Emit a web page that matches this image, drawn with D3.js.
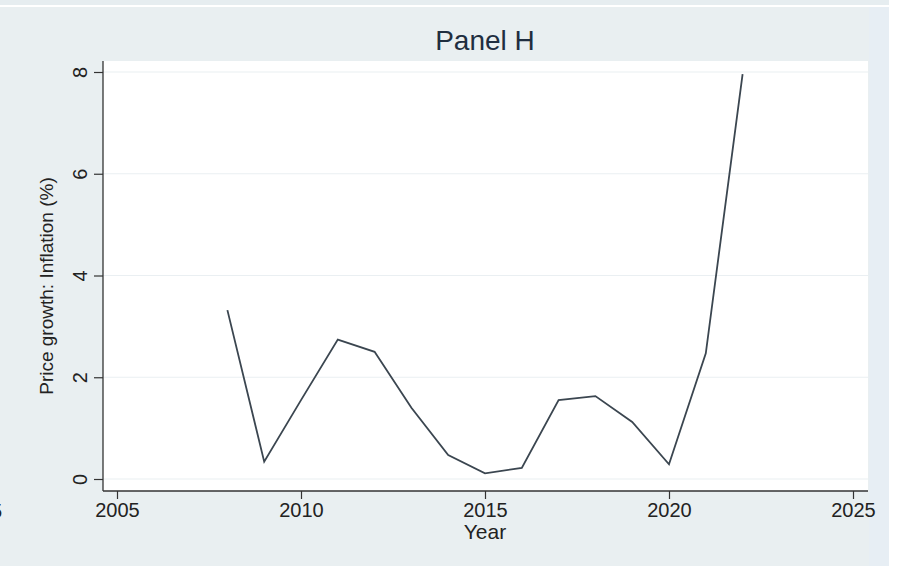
<!DOCTYPE html>
<html>
<head>
<meta charset="utf-8">
<script src="https://cdn.jsdelivr.net/npm/d3@7"></script>
<style>
  html, body { margin: 0; padding: 0; background: #ffffff; }
  svg { display: block; }
</style>
</head>
<body>
<svg id="chart" width="900" height="566"></svg>
<script>
// ---- data ----
const years = [2008, 2009, 2010, 2011, 2012, 2013, 2014, 2015, 2016, 2017, 2018, 2019, 2020, 2021, 2022];
const inflation = [3.32, 0.34, 1.55, 2.74, 2.50, 1.40, 0.47, 0.11, 0.22, 1.55, 1.63, 1.12, 0.29, 2.47, 7.96];
const xTicks = [2005, 2010, 2015, 2020, 2025];
const yTicks = [0, 2, 4, 6, 8];
const title = "Panel H";
const xLabel = "Year";
const yLabel = "Price growth: Inflation (%)";

const svg = d3.select("#chart");
const W = 900, H = 566;

// backgrounds
svg.append("rect").attr("x", 0).attr("y", 0).attr("width", W).attr("height", H).attr("fill", "#ffffff");
svg.append("rect").attr("x", 0).attr("y", 0).attr("width", 889).attr("height", 5).attr("fill", "#e6edf0");
svg.append("rect").attr("x", 0).attr("y", 7).attr("width", 889).attr("height", H - 7).attr("fill", "#e9eff1");
svg.append("rect").attr("x", 869).attr("y", 7).attr("width", 20).attr("height", H - 7).attr("fill", "#e7eef4");

// plot region
const pr = { left: 103, right: 868, top: 61, bottom: 491 };
svg.append("rect").attr("x", pr.left).attr("y", pr.top)
  .attr("width", pr.right - pr.left).attr("height", pr.bottom - pr.top)
  .attr("fill", "#ffffff");

const x = d3.scaleLinear().domain([2005, 2025]).range([117, 853]);
const y = d3.scaleLinear().domain([0, 8]).range([479, 72]);

// gridlines
svg.append("g").selectAll("line").data(yTicks).join("line")
  .attr("x1", pr.left).attr("x2", pr.right)
  .attr("y1", d => y(d)).attr("y2", d => y(d))
  .attr("stroke", "#eaeff2").attr("stroke-width", 1.2);

// axes
const font = "'Liberation Sans', Arial, sans-serif";
const xAxis = svg.append("g").attr("transform", `translate(0,${pr.bottom})`)
  .call(d3.axisBottom(x).tickValues(xTicks).tickFormat(d3.format("d")).tickSize(8).tickPadding(4).tickSizeOuter(0));
xAxis.select(".domain").attr("d", `M${pr.left},0H${pr.right}`).attr("stroke", "#333").attr("stroke-width", 1.3);
xAxis.selectAll(".tick line").attr("stroke", "#333").attr("stroke-width", 1.2);
xAxis.selectAll(".tick text").attr("font-family", font).attr("font-size", 20).attr("fill", "#222");

const yAxis = svg.append("g").attr("transform", `translate(${pr.left},0)`)
  .call(d3.axisLeft(y).tickValues(yTicks).tickFormat(d3.format("d")).tickSize(9).tickSizeOuter(0));
yAxis.select(".domain").attr("d", `M0,${pr.top}V${pr.bottom}`).attr("stroke", "#333").attr("stroke-width", 1.3);
yAxis.selectAll(".tick line").attr("stroke", "#333").attr("stroke-width", 1.2);
yAxis.selectAll(".tick text")
  .attr("font-family", font).attr("font-size", 20).attr("fill", "#222")
  .attr("x", null).attr("dy", null)
  .attr("text-anchor", "middle")
  .attr("transform", "translate(-23,0) rotate(-90)")
  .attr("dominant-baseline", "central");

// line
const line = d3.line().x((d, i) => x(years[i])).y(d => y(d));
svg.append("path").datum(inflation)
  .attr("d", line).attr("fill", "none")
  .attr("stroke", "#3b4650").attr("stroke-width", 1.8).attr("stroke-linejoin", "miter");

// title
svg.append("text").attr("x", 485).attr("y", 50).attr("text-anchor", "middle")
  .attr("font-family", font).attr("font-size", 28).attr("fill", "#1f2e40").text(title);

// x label
svg.append("text").attr("x", 485).attr("y", 539).attr("text-anchor", "middle")
  .attr("font-family", font).attr("font-size", 21).attr("fill", "#222").text(xLabel);

// y label
svg.append("text").attr("transform", `translate(53,${(pr.top + pr.bottom) / 2 + 10}) rotate(-90)`)
  .attr("text-anchor", "middle")
  .attr("font-family", font).attr("font-size", 19).attr("fill", "#222").text(yLabel);

// clipped fragment of neighbouring panel's tick label (as in the reference)
svg.append("text").attr("x", -9).attr("y", 518)
  .attr("font-family", font).attr("font-size", 20).attr("fill", "#222").text("5");
</script>
</body>
</html>
